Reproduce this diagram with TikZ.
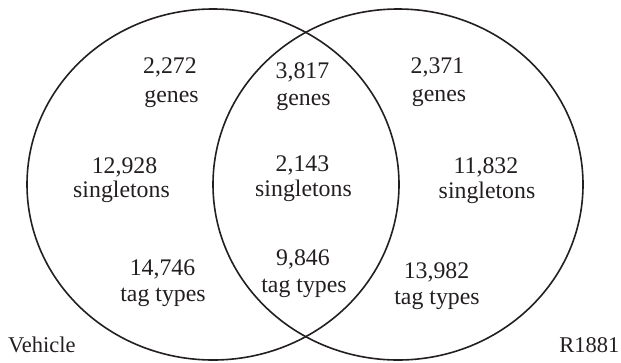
\documentclass[tikz,border=0pt]{standalone}
\usepackage{fontspec}
\setmainfont{Liberation Serif}
\definecolor{ink}{HTML}{231F20}
\begin{document}
\begin{tikzpicture}[x=1pt,y=-1pt,
  setring/.style={draw=ink,line width=1.6pt},
  lbl/.style={text=ink,font=\fontsize{23.8}{26}\selectfont,anchor=base,inner sep=0pt},
  side/.style={text=ink,font=\fontsize{22.5}{25}\selectfont,inner sep=0pt}]
\useasboundingbox (0,0) rectangle (621,362);
% the two sets
\draw[setring] (213,184.5) ellipse [x radius=186, y radius=175.5];
\draw[setring] (398,184.5) ellipse [x radius=185, y radius=175.5];
% Vehicle only
\node[lbl] (vg1) at (170,73) {2,272};
\node[lbl] (vg2) at (171.5,102) {genes};
\node[lbl] (vs1) at (124.5,173) {12,928};
\node[lbl] (vs2) at (121.5,197) {singletons};
\node[lbl] (vt1) at (162.5,275) {14,746};
\node[lbl] (vt2) at (163,301) {tag types};
% shared
\node[lbl] (bg1) at (302.5,78) {3,817};
\node[lbl] (bg2) at (303.5,105) {genes};
\node[lbl] (bs1) at (302.5,171) {2,143};
\node[lbl] (bs2) at (303.5,196) {singletons};
\node[lbl] (bt1) at (303,265) {9,846};
\node[lbl] (bt2) at (304,292) {tag types};
% R1881 only
\node[lbl] (rg1) at (437.5,73) {2,371};
\node[lbl] (rg2) at (439,101) {genes};
\node[lbl] (rs1) at (486,173) {11,832};
\node[lbl] (rs2) at (487,198) {singletons};
\node[lbl] (rt1) at (436.5,278) {13,982};
\node[lbl] (rt2) at (437,304) {tag types};
% set names
\node[side,anchor=base west] (veh) at (8,352) {Vehicle};
\node[side,anchor=base east] (r18) at (619.5,352) {R1881};
\end{tikzpicture}
\end{document}
